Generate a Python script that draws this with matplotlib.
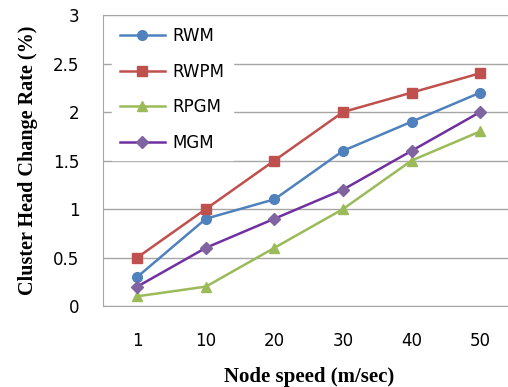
import numpy as np
import matplotlib.pyplot as plt

speeds = ['1', '10', '20', '30', '40', '50']
rwm = [0.3, 0.9, 1.1, 1.6, 1.9, 2.2]
rwpm = [0.5, 1.0, 1.5, 2.0, 2.2, 2.4]
rpgm = [0.1, 0.2, 0.6, 1.0, 1.5, 1.8]
mgm = [0.2, 0.6, 0.9, 1.2, 1.6, 2.0]

x = np.arange(len(speeds))

fig = plt.figure(figsize=(5.08, 3.87), dpi=100)
ax = fig.add_axes([0.2028, 0.2093, 0.81, 0.7519])

ax.plot(x, rwm, color='#4F81BD', marker='o', ms=7, lw=1.8, label='RWM')
ax.plot(x, rwpm, color='#C0504D', marker='s', ms=7, lw=1.8, label='RWPM')
ax.plot(x, rpgm, color='#9BBB59', marker='^', ms=7, lw=1.8, label='RPGM')
ax.plot(x, mgm, color='#7030A0', marker='D', ms=6.5, lw=1.8,
        markerfacecolor='#8064A2', markeredgecolor='#8064A2', label='MGM')

ax.set_xlim(-0.5, 5.5)
ax.set_ylim(0, 3)
ax.set_yticks(np.arange(0, 3.01, 0.5))
ax.set_yticklabels(['0', '0.5', '1', '1.5', '2', '2.5', '3'])
ax.set_xticks(x)
ax.set_xticklabels(speeds)
ax.tick_params(axis='both', length=0, labelsize=12)
ax.tick_params(axis='x', pad=19)
ax.tick_params(axis='y', pad=17)
ax.grid(axis='y', color='#A6A6A6', lw=1)
ax.set_axisbelow(True)
for s in ['left', 'bottom', 'top']:
    ax.spines[s].set_color('#A6A6A6')
ax.spines['right'].set_visible(False)

ax.set_xlabel('Node speed (m/sec)', fontfamily='Liberation Serif',
              fontweight='bold', fontsize=15, labelpad=12)
ax.set_ylabel('Cluster Head Change Rate (%)', fontfamily='Liberation Serif',
              fontweight='bold', fontsize=14.5, labelpad=11)

leg = ax.legend(loc='upper left', bbox_to_anchor=(0.021, 0.987),
                frameon=True, fontsize=12, handlelength=2.7,
                handletextpad=0.45, labelspacing=1.05, borderaxespad=0,
                borderpad=0.5, edgecolor='white', framealpha=1,
                fancybox=False)

fig.savefig('out.png', dpi=100)
